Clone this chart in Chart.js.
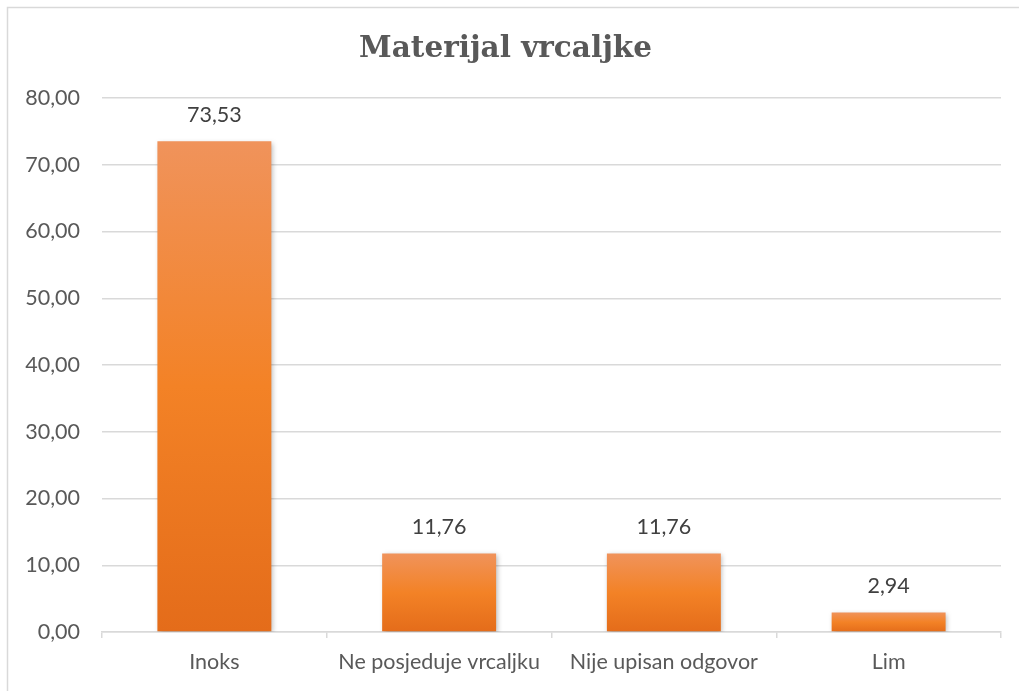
<!DOCTYPE html>
<html>
<head>
<meta charset="utf-8">
<script src="https://cdn.jsdelivr.net/npm/chart.js@4/dist/chart.umd.min.js"></script>
<style>
  html, body { margin: 0; padding: 0; background: #ffffff; }
  #wrap { width: 1019px; height: 691px; position: relative; }
</style>
</head>
<body>
<div id="wrap"><canvas id="c" width="1019" height="691"></canvas></div>
<script>
const categories = ["Inoks", "Ne posjeduje vrcaljku", "Nije upisan odgovor", "Lim"];
const values = [73.53, 11.76, 11.76, 2.94];
const yTicks = [0, 10, 20, 30, 40, 50, 60, 70, 80];
const titleText = "Materijal vrcaljke";

const fmt = v => v.toFixed(2).replace('.', ',');
const labelFont = "Lato, 'Open Sans', sans-serif";
const labelSize = 21.5;

const frame = {
  id: 'frame',
  beforeDraw(chart) {
    const ctx = chart.ctx;
    ctx.save();
    ctx.fillStyle = '#ffffff';
    ctx.fillRect(0, 0, chart.width, chart.height);
    ctx.strokeStyle = '#D9D9D9';
    ctx.lineWidth = 1.5;
    ctx.beginPath();
    ctx.moveTo(7.5, chart.height);
    ctx.lineTo(7.5, 7.5);
    ctx.lineTo(chart.width, 7.5);
    ctx.stroke();
    ctx.restore();
  }
};

const shadow = {
  id: 'barShadow',
  beforeDatasetsDraw(chart) {
    const ctx = chart.ctx;
    ctx.save();
    ctx.shadowColor = 'rgba(0,0,0,0.28)';
    ctx.shadowBlur = 5;
    ctx.shadowOffsetX = 1.5;
    ctx.shadowOffsetY = 1.5;
  },
  afterDatasetsDraw(chart) {
    chart.ctx.restore();
  }
};

const valueLabels = {
  id: 'valueLabels',
  afterDatasetsDraw(chart) {
    const ctx = chart.ctx;
    const meta = chart.getDatasetMeta(0);
    ctx.save();
    ctx.font = labelSize + "px " + labelFont;
    ctx.fillStyle = '#404040';
    ctx.textAlign = 'center';
    ctx.textBaseline = 'middle';
    meta.data.forEach((bar, i) => {
      ctx.fillText(fmt(values[i]), bar.x, bar.y - 26);
    });
    ctx.restore();
  }
};

new Chart(document.getElementById('c'), {
  type: 'bar',
  data: {
    labels: categories,
    datasets: [{
      data: values,
      backgroundColor: (c) => {
        const chart = c.chart;
        const ys = chart.scales && chart.scales.y;
        if (!chart.chartArea || !ys || c.raw === undefined) return '#ED7D31';
        const top = ys.getPixelForValue(c.raw);
        const bot = ys.getPixelForValue(0);
        if (!isFinite(top) || !isFinite(bot) || bot - top < 1) return '#ED7D31';
        const g = chart.ctx.createLinearGradient(0, top, 0, bot);
        g.addColorStop(0, '#F0935B');
        g.addColorStop(0.5, '#F38226');
        g.addColorStop(1, '#E46C1A');
        return g;
      },
      borderWidth: 0,
      categoryPercentage: 1.0,
      barPercentage: 0.507
    }]
  },
  options: {
    responsive: false,
    animation: false,
    events: [],
    layout: { padding: { left: 10, right: 18, top: 0, bottom: 0 } },
    plugins: {
      legend: { display: false },
      tooltip: { enabled: false },
      title: {
        display: true,
        text: titleText,
        color: '#595959',
        font: { family: "'DejaVu Serif', serif", size: 29.5, weight: 'bold', lineHeight: 1.2 },
        padding: { top: 32, bottom: 30.6 }
      }
    },
    scales: {
      x: {
        grid: { display: true, drawOnChartArea: false, drawTicks: true, tickLength: 6, offset: true, color: '#D9D9D9', lineWidth: 1.5 },
        border: { display: true, color: '#D9D9D9', width: 1.5 },
        ticks: { color: '#595959', font: { family: labelFont, size: labelSize }, padding: 11 },
        afterFit(s) { s.height = 59; }
      },
      y: {
        min: 0, max: 80,
        afterBuildTicks(s) { s.ticks = yTicks.map(v => ({ value: v })); },
        grid: { color: '#D9D9D9', lineWidth: 1.5, drawTicks: false },
        border: { display: false },
        ticks: { color: '#595959', font: { family: labelFont, size: labelSize }, padding: 22, callback: v => fmt(v) },
        afterFit(s) { s.width = 92; }
      }
    }
  },
  plugins: [frame, shadow, valueLabels]
});
</script>
</body>
</html>
